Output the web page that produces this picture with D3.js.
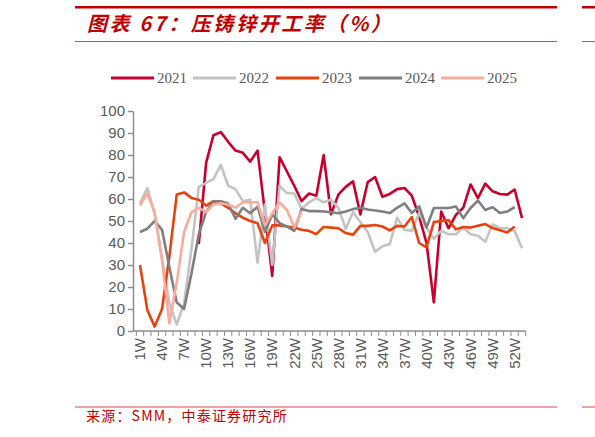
<!DOCTYPE html>
<html>
<head>
<meta charset="utf-8">
<script src="https://cdn.jsdelivr.net/npm/d3@7"></script>
<style>
  body { margin: 0; background: #fff; }
  svg { display: block; }
</style>
</head>
<body>
<div id="main"></div>
<script>
// weeks 1W..53W
const weeks = d3.range(1, 54).map(d => d + 'W');
const tickWeeks = d3.range(1, 54, 3).map(d => d + 'W');
const yTicks = [0, 10, 20, 30, 40, 50, 60, 70, 80, 90, 100];

const years = ['2021', '2022', '2023', '2024', '2025'];

const v2021 = [null, null, null, null, null, null, null, null, 39.5, 76.4,
  89, 90.4, 86, 82, 81, 77, 82, 54, 25, 79,
  72.5, 66, 59, 62.5, 61.5, 80, 53, 62, 65.5, 68,
  53, 67.7, 70, 61, 62.3, 64.5, 65, 61.5, 52, 40,
  13, 54.3, 46.7, 52.8, 56, 66.6, 60.4, 67, 63.5, 62.3,
  62, 64.3, 51.3];
const v2022 = [58, 65, 53, 33, 12.5, 3, 12.5, 37, 65.5, 67.3,
  69, 75.5, 66, 64.5, 59, 59.7, 31, 57.5, 30, 66,
  62.7, 62.5, 55.5, 58.5, 60.4, 58.5, 59.7, 56, 46.5, 54,
  49.5, 45, 36, 38.5, 39.5, 51.5, 46, 45.5, 53.6, 47,
  42, 45.5, 44, 44, 47, 44, 43.3, 40.6, 48.5, 46.7,
  46.7, 45.5, 37.6];
const v2023 = [30, 9.5, 2, 10, 34, 62, 63, 60.5, 59.7, 57,
  59, 58, 56, 53.5, 51.5, 50, 49, 40, 48, 48,
  47.5, 47, 46, 45.5, 44, 47.3, 47, 46.7, 44.5, 43.8,
  47.8, 47.8, 48.2, 47.5, 45.7, 47.8, 47.5, 51.8, 40, 38,
  49.5, 50, 50.4, 46.2, 47.3, 47, 47.8, 48.6, 46.8, 45.8,
  44.8, 47.5];
const v2024 = [45, 46.5, 50, 46, 29, 13, 10, 26, 44, 54,
  59, 59, 58, 51, 56, 53.5, 56.5, 45, 53, 49,
  47.5, 45.5, 55.5, 54.5, 54.5, 54.3, 54, 53.5, 54.3, 55.4,
  56, 55.2, 54.8, 54.3, 53.6, 56, 58, 53.6, 56.6, 47,
  55.9, 55.9, 55.9, 56.6, 51.3, 55.9, 59.3, 55, 56.3, 53.6,
  54.3, 56.3];
const v2025 = [57, 62.5, 54, 32, 3.5, 22, 45, 54, 56, 54,
  57.5, 58, 57.5, 56, 58.5, 58.5, 58.5, 48, 53.5, 58.5,
  55, 47, 54.5];

const colors = ['#C8002D', '#C3C3C3', '#E8420E', '#7F7F7F', '#F9AC9C'];

const w = 595;
const h = 437;
const red = '#C00000';

const svg = d3.select('#main').append('svg')
    .attr('width', w).attr('height', h);

// header / footer rules
svg.append('rect').attr('x', 75).attr('y', 6).attr('width', 482).attr('height', 2.5).attr('fill', red);
svg.append('rect').attr('x', 582).attr('y', 6).attr('width', 13).attr('height', 2.5).attr('fill', red);
svg.append('rect').attr('x', 75).attr('y', 41).attr('width', 482).attr('height', 1).attr('fill', '#D84A4A');
svg.append('rect').attr('x', 582).attr('y', 41).attr('width', 13).attr('height', 1).attr('fill', '#D84A4A');
svg.append('rect').attr('x', 75).attr('y', 406.5).attr('width', 482).attr('height', 1).attr('fill', '#D84A4A');
svg.append('rect').attr('x', 582).attr('y', 406.5).attr('width', 13).attr('height', 1).attr('fill', '#D84A4A');

// title
svg.append('text')
    .attr('x', 87).attr('y', 31)
    .style('font-family', '"Noto Sans CJK SC", sans-serif')
    .style('font-size', '20px')
    .style('font-weight', 'bold')
    .style('font-style', 'italic')
    .style('letter-spacing', '2.6px')
    .attr('fill', red)
    .text('图表 67：压铸锌开工率（%）');

// footer
svg.append('text')
    .attr('x', 86).attr('y', 421)
    .style('font-family', '"Noto Sans CJK SC", sans-serif')
    .style('font-size', '14px')
    .style('letter-spacing', '1.2px')
    .attr('fill', red)
    .text('来源：SMM，中泰证券研究所');

// scales
const xScale = d3.scalePoint().domain(weeks).range([140, 522]);
const step = xScale.step();
const yScale = d3.scaleLinear().domain([0, 100]).range([331, 111]);

const axisColor = '#8C8C8C';
const labelColor = '#595959';

// y axis
const yAxis = d3.axisLeft(yScale).tickValues(yTicks).tickSize(5).tickSizeOuter(0);
const gy = svg.append('g').attr('transform', 'translate(133,0)').call(yAxis);
gy.select('.domain').attr('stroke', axisColor).attr('stroke-width', 1.5);
gy.selectAll('.tick line').attr('stroke', axisColor).attr('stroke-width', 1.5);
gy.selectAll('.tick text')
    .attr('fill', labelColor)
    .attr('x', -8)
    .style('font-family', '"Liberation Sans", Arial, sans-serif')
    .style('font-size', '15px');

// x axis
const gx = svg.append('g');
gx.append('line')
    .attr('x1', 133).attr('x2', xScale('53W') + step / 2)
    .attr('y1', 331).attr('y2', 331)
    .attr('stroke', axisColor).attr('stroke-width', 1.5);
const bounds = weeks.map(d => xScale(d) - step / 2).concat([xScale('53W') + step / 2]);
gx.selectAll('line.tk').data(bounds).enter().append('line')
    .attr('class', 'tk')
    .attr('x1', d => d).attr('x2', d => d)
    .attr('y1', 331).attr('y2', 336)
    .attr('stroke', axisColor).attr('stroke-width', 1);
gx.selectAll('text').data(tickWeeks).enter().append('text')
    .attr('transform', d => `translate(${xScale(d)},338) rotate(-90)`)
    .attr('text-anchor', 'end')
    .attr('dy', '0.35em')
    .attr('fill', labelColor)
    .style('font-family', '"Liberation Sans", Arial, sans-serif')
    .style('font-size', '15px')
    .text(d => d);

// lines
const series = [v2021, v2022, v2023, v2024, v2025];
const line = d3.line()
    .defined(d => d != null)
    .x((d, i) => xScale(weeks[i]))
    .y(d => yScale(d));

series.forEach((s, k) => {
    svg.append('path')
        .datum(s)
        .attr('d', line)
        .attr('fill', 'none')
        .attr('stroke', colors[k])
        .attr('stroke-width', 2.6)
        .attr('stroke-linejoin', 'round');
});

// legend
const legendX = [111, 193, 276, 359, 441];
const legend = svg.append('g');
years.forEach((y, k) => {
    legend.append('line')
        .attr('x1', legendX[k]).attr('x2', legendX[k] + 43)
        .attr('y1', 78).attr('y2', 78)
        .attr('stroke', colors[k]).attr('stroke-width', 3);
    legend.append('text')
        .attr('x', legendX[k] + 46).attr('y', 78)
        .attr('dy', '0.35em')
        .attr('fill', labelColor)
        .style('font-family', '"Liberation Serif", "Times New Roman", serif')
        .style('font-size', '15px')
        .text(y);
});
</script>
</body>
</html>
